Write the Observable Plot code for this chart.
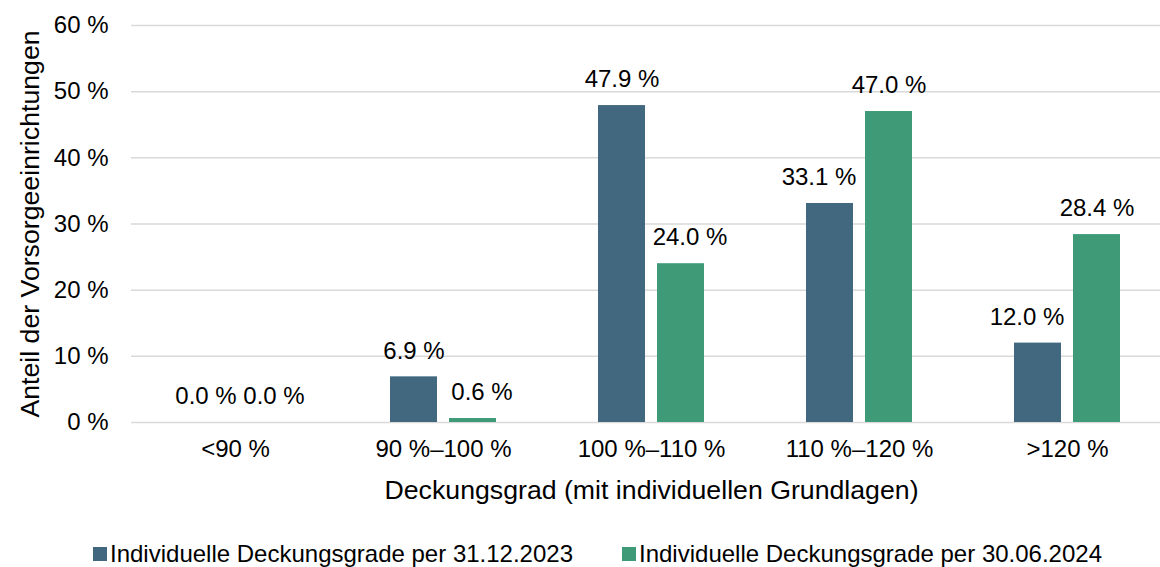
<!DOCTYPE html>
<html>
<head>
<meta charset="utf-8">
<script src="https://cdn.jsdelivr.net/npm/d3@7"></script>
<script src="https://cdn.jsdelivr.net/npm/@observablehq/plot@0.6"></script>
<style>
  html, body { margin: 0; padding: 0; background: #fff; }
  body { width: 1160px; height: 567px; overflow: hidden; font-family: "Liberation Sans", Arial, sans-serif; }
  #chart { width: 1160px; height: 520px; overflow: hidden; }
  #chart svg { display: block; max-width: none !important; }
  #legend { display: flex; align-items: center; padding-left: 93px; margin-top: 20px; font-size: 24px; line-height: 28px; color: #000; white-space: nowrap; }
  .item { display: flex; align-items: center; margin-right: 49px; }
  .sw { width: 14px; height: 14px; margin-right: 3px; }
</style>
</head>
<body>
<div id="chart"></div>
<div id="legend"></div>
<script>
const categories = ["<90 %", "90 %–100 %", "100 %–110 %", "110 %–120 %", ">120 %"];
const series = ["Individuelle Deckungsgrade per 31.12.2023", "Individuelle Deckungsgrade per 30.06.2024"];
const values2023 = [0.0, 6.9, 47.9, 33.1, 12.0];
const values2024 = [0.0, 0.6, 24.0, 47.0, 28.4];
const yTicks = [0, 10, 20, 30, 40, 50, 60];
const colors = ["#41687f", "#3f9b77"];
const xTitle = "Deckungsgrad (mit individuellen Grundlagen)";
const yTitle = "Anteil der Vorsorgeeinrichtungen";

const data = [];
categories.forEach((c, i) => {
  data.push({cat: c, series: series[0], value: values2023[i], other: values2024[i]});
  data.push({cat: c, series: series[1], value: values2024[i], other: values2023[i]});
});
const fmt = d => d.value.toFixed(1) + " %";
// labels move away from a taller neighbouring bar (or from an equal one, second series)
const shiftDir = d => {
  const first = d.series === series[0];
  if (d.other > d.value + 4) return first ? -1 : 1;
  if (d.other === d.value && !first) return 1;
  return 0;
};
const labelOpts = (dx) => ({fx: "cat", x: "series", y: "value", text: fmt, dy: -26, dx, lineAnchor: "middle", fontSize: 24, fill: "#000"});

const chart = Plot.plot({
  width: 1171,
  height: 520,
  marginLeft: 131,
  marginRight: 0,
  marginTop: 25,
  marginBottom: 98,
  style: {fontFamily: "'Liberation Sans', Arial, sans-serif", fontSize: "24px", color: "#000", background: "#fff", maxWidth: "none", overflow: "visible"},
  fx: {domain: categories, padding: 0, label: null, tickSize: 0, tickPadding: 17, axis: "bottom"},
  x: {domain: series, paddingInner: 0.203, paddingOuter: 0.864, axis: null},
  y: {domain: [0, 60], ticks: yTicks, tickFormat: d => d + " %", tickSize: 0, tickPadding: 23, label: null},
  color: {domain: series, range: colors},
  marks: [
    Plot.ruleY(yTicks, {stroke: "#d9d9d9", strokeWidth: 1.5}),
    Plot.barY(data, {fx: "cat", x: "series", y: "value", fill: "series"}),
    Plot.text(data.filter(d => shiftDir(d) === 0), labelOpts(0)),
    Plot.text(data.filter(d => shiftDir(d) === -1), labelOpts(-11)),
    Plot.text(data.filter(d => shiftDir(d) === 1), labelOpts(9)),
    Plot.text([xTitle], {fx: () => categories[2], frameAnchor: "bottom", dy: 68, lineAnchor: "middle", fontSize: 26.7, text: d => d, fill: "#000"}),
    Plot.text([yTitle], {fx: () => categories[0], frameAnchor: "left", dx: -101, rotate: -90, lineAnchor: "middle", textAnchor: "middle", fontSize: 26.7, text: d => d, fill: "#000"})
  ]
});
document.getElementById("chart").appendChild(chart);

const legend = document.getElementById("legend");
series.forEach((s, i) => {
  const it = document.createElement("div");
  it.className = "item";
  const sw = document.createElement("span");
  sw.className = "sw";
  sw.style.background = colors[i];
  const t = document.createElement("span");
  t.textContent = s;
  it.appendChild(sw);
  it.appendChild(t);
  legend.appendChild(it);
});
</script>
</body>
</html>
